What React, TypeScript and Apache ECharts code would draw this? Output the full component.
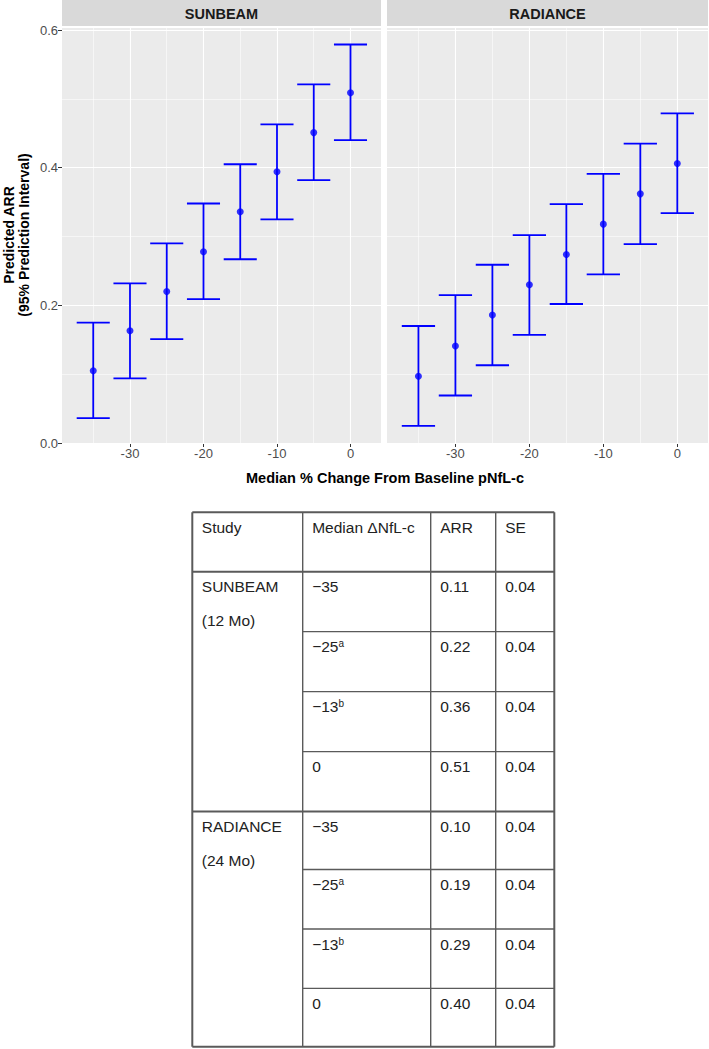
import React, { useEffect, useRef } from "react";
import * as echarts from "echarts";

// ---------- chart data ----------
const xValues = [-35, -30, -25, -20, -15, -10, -5, 0];
const sunbeamARR = [0.105, 0.163, 0.22, 0.278, 0.336, 0.394, 0.451, 0.509];
const sunbeamLower = [0.036, 0.094, 0.151, 0.209, 0.267, 0.325, 0.382, 0.44];
const sunbeamUpper = [0.175, 0.232, 0.29, 0.348, 0.405, 0.463, 0.521, 0.579];
const radianceARR = [0.097, 0.141, 0.186, 0.23, 0.274, 0.318, 0.362, 0.406];
const radianceLower = [0.025, 0.069, 0.113, 0.157, 0.202, 0.245, 0.289, 0.334];
const radianceUpper = [0.17, 0.215, 0.259, 0.302, 0.347, 0.391, 0.435, 0.479];

const panelTitles = ["SUNBEAM", "RADIANCE"];
const xTickValues = [-30, -20, -10, 0];
const xMinorValues = [-35, -25, -15, -5];
const yTickValues = [0, 0.2, 0.4, 0.6];
const yMinorValues = [0.1, 0.3, 0.5];

// ---------- table data ----------
const tableHeader = ["Study", "Median \u0394NfL-c", "ARR", "SE"];
const tableStudies = [
  ["SUNBEAM", "(12 Mo)"],
  ["RADIANCE", "(24 Mo)"],
];
const tableChange = ["\u221235", "\u221225", "\u221213", "0"];
const tableChangeNote = ["", "a", "b", ""];
const tableARR = [
  ["0.11", "0.22", "0.36", "0.51"],
  ["0.10", "0.19", "0.29", "0.40"],
];
const tableSE = [
  ["0.04", "0.04", "0.04", "0.04"],
  ["0.04", "0.04", "0.04", "0.04"],
];

const FONT = "'Liberation Sans', Arial, Helvetica, sans-serif";
const BLUE = "#0000ff";

export default function App() {
  const ref = useRef<HTMLDivElement>(null);

  useEffect(() => {
    const chart = echarts.init(ref.current!, null, { renderer: "svg" });

    const xMin = -39.25;
    const xMax = 4.15;
    const yMin = 0;
    const yMax = 0.603;
    const capHalf = 2.25;

    const grids = [
      { left: 62, top: 28, width: 319, height: 415 },
      { left: 387, top: 28, width: 321, height: 415 },
    ];

    const gridLineData = [
      ...xTickValues.map((v) => ({ xAxis: v, lineStyle: { width: 1.1 } })),
      ...xMinorValues.map((v) => ({ xAxis: v, lineStyle: { width: 0.55 } })),
      ...yTickValues.map((v) => ({ yAxis: v, lineStyle: { width: 1.1 } })),
      ...yMinorValues.map((v) => ({ yAxis: v, lineStyle: { width: 0.55 } })),
    ];

    const errRender = (params: any, api: any) => {
      const x = api.value(0);
      const lo = api.value(1);
      const hi = api.value(2);
      const pLo = api.coord([x, lo]);
      const pHi = api.coord([x, hi]);
      const l = api.coord([x - capHalf, lo])[0];
      const r = api.coord([x + capHalf, lo])[0];
      const st = { stroke: BLUE, lineWidth: 1.8 };
      return {
        type: "group",
        children: [
          { type: "line", shape: { x1: pLo[0], y1: pLo[1], x2: pHi[0], y2: pHi[1] }, style: st },
          { type: "line", shape: { x1: l, y1: pLo[1], x2: r, y2: pLo[1] }, style: st },
          { type: "line", shape: { x1: l, y1: pHi[1], x2: r, y2: pHi[1] }, style: st },
        ],
      };
    };

    const panels = [
      { mid: sunbeamARR, lo: sunbeamLower, hi: sunbeamUpper },
      { mid: radianceARR, lo: radianceLower, hi: radianceUpper },
    ];

    const xAxes = grids.map((_, i) => ({
      type: "value",
      gridIndex: i,
      min: xMin,
      max: xMax,
      axisLine: { show: false, onZero: false },
      splitLine: { show: false },
      axisTick: {
        show: true,
        customValues: xTickValues,
        length: 4,
        lineStyle: { color: "#333333", width: 1 },
      },
      axisLabel: {
        customValues: xTickValues,
        color: "#4d4d4d",
        fontSize: 13,
        fontFamily: FONT,
        margin: 4,
        formatter: (v: number) => `${v}`,
      },
    }));

    const yAxes = grids.map((_, i) => ({
      type: "value",
      gridIndex: i,
      min: yMin,
      max: yMax,
      axisLine: { show: false, onZero: false },
      splitLine: { show: false },
      axisTick: {
        show: i === 0,
        customValues: yTickValues,
        length: 4,
        lineStyle: { color: "#333333", width: 1 },
      },
      axisLabel: {
        show: i === 0,
        customValues: yTickValues,
        color: "#4d4d4d",
        fontSize: 13,
        fontFamily: FONT,
        margin: 4,
        formatter: (v: number) => v.toFixed(1),
      },
    }));

    const series: any[] = [];
    panels.forEach((p, i) => {
      series.push({
        type: "line",
        xAxisIndex: i,
        yAxisIndex: i,
        z: 1,
        silent: true,
        showSymbol: false,
        lineStyle: { width: 0, opacity: 0 },
        data: [[xMin, yMin]],
        markLine: {
          z: 1,
          silent: true,
          symbol: ["none", "none"],
          label: { show: false },
          emphasis: { disabled: true },
          lineStyle: { color: "#ffffff", type: "solid", width: 1.1 },
          data: gridLineData,
        },
      });
      series.push({
        type: "custom",
        xAxisIndex: i,
        yAxisIndex: i,
        z: 10,
        renderItem: errRender,
        encode: { x: 0, y: [1, 2] },
        data: xValues.map((x, k) => [x, p.lo[k], p.hi[k]]),
      });
      series.push({
        type: "scatter",
        xAxisIndex: i,
        yAxisIndex: i,
        z: 11,
        symbol: "circle",
        symbolSize: 7,
        itemStyle: { color: BLUE },
        data: xValues.map((x, k) => [x, p.mid[k]]),
      });
    });

    const graphic: any[] = [];
    grids.forEach((g, i) => {
      graphic.push({
        type: "rect",
        z: -10,
        shape: { x: g.left, y: g.top, width: g.width, height: g.height },
        style: { fill: "#ebebeb" },
        silent: true,
      });
      graphic.push({
        type: "rect",
        shape: { x: g.left, y: 0, width: g.width, height: 26 },
        style: { fill: "#d9d9d9" },
        silent: true,
      });
      graphic.push({
        type: "text",
        x: g.left + g.width / 2,
        y: 13.5,
        style: {
          text: panelTitles[i],
          fill: "#1a1a1a",
          font: `bold 14.5px ${FONT}`,
          align: "center",
          verticalAlign: "middle",
        },
      });
    });
    graphic.push({
      type: "text",
      x: 16,
      y: 235,
      rotation: Math.PI / 2,
      style: {
        text: "Predicted ARR\n(95% Prediction Interval)",
        fill: "#000000",
        font: `bold 14px ${FONT}`,
        lineHeight: 15,
        align: "center",
        verticalAlign: "middle",
      },
    });
    graphic.push({
      type: "text",
      x: 385,
      y: 478,
      style: {
        text: "Median % Change From Baseline pNfL-c",
        fill: "#000000",
        font: `bold 14.5px ${FONT}`,
        align: "center",
        verticalAlign: "middle",
      },
    });

    // ---------- table ----------
    const colX = [192.3, 302.7, 430.7, 495.7, 554.3];
    const rowY = [512.3, 571.7, 631.7, 691.7, 751.7, 811.5, 869.5, 929, 988.3, 1046.7];
    const lineColor = "#5a5a5a";
    const hLine = (y: number, x1: number, x2: number, w: number) =>
      graphic.push({
        type: "line",
        shape: { x1, y1: y, x2, y2: y },
        style: { stroke: lineColor, lineWidth: w },
        silent: true,
      });
    const vLine = (x: number, w: number) =>
      graphic.push({
        type: "line",
        shape: { x1: x, y1: rowY[0], x2: x, y2: rowY[rowY.length - 1] },
        style: { stroke: lineColor, lineWidth: w },
        silent: true,
      });
    [0, 1, 5, 9].forEach((r) => hLine(rowY[r], colX[0], colX[4], 2));
    [2, 3, 4, 6, 7, 8].forEach((r) => hLine(rowY[r], colX[1], colX[4], 1.3));
    colX.forEach((x, i) => vLine(x, i === 0 || i === colX.length - 1 ? 2 : 1.4));

    const TEXT = "#222222";
    const cellText = (col: number, y: number, text: string, rich?: any) =>
      graphic.push({
        type: "text",
        x: colX[col] + 9.5,
        y,
        style: {
          text,
          fill: TEXT,
          font: `15.5px ${FONT}`,
          fontSize: 15.5,
          fontFamily: FONT,
          align: "left",
          verticalAlign: "middle",
          rich,
        },
      });
    const off = 15;
    tableHeader.forEach((h, c) => cellText(c, rowY[0] + off, h));
    tableStudies.forEach((s, g) => {
      const top = rowY[1 + g * 4];
      cellText(0, top + off, s[0]);
      cellText(0, top + off + 34, s[1]);
      tableChange.forEach((ch, r) => {
        const y = rowY[1 + g * 4 + r] + off;
        const note = tableChangeNote[r];
        if (note) {
          cellText(1, y, `{n|${ch}}{s|${note}}`, {
            n: { fontSize: 15.5, fontFamily: FONT, fill: TEXT, color: TEXT },
            s: {
              fontSize: 10,
              fontFamily: FONT,
              fill: TEXT,
              color: TEXT,
              verticalAlign: "top",
              padding: [0, 0, 6, 0],
            },
          });
        } else {
          cellText(1, y, ch);
        }
        cellText(2, y, tableARR[g][r]);
        cellText(3, y, tableSE[g][r]);
      });
    });

    chart.setOption({
      animation: false,
      backgroundColor: "#ffffff",
      grid: grids.map((g) => ({ ...g, containLabel: false })),
      xAxis: xAxes,
      yAxis: yAxes,
      series,
      graphic,
    });

    return () => chart.dispose();
  }, []);

  return (
    <div
      ref={ref}
      style={{ position: "absolute", left: 0, top: 0, width: 709, height: 1049, background: "#fff" }}
    />
  );
}
